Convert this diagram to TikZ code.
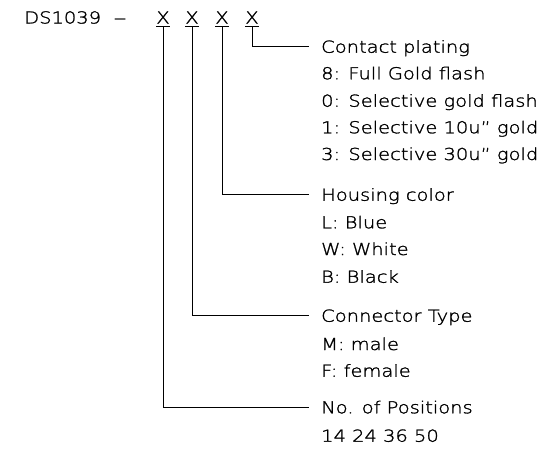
\documentclass[tikz,border=0pt]{standalone}
\usepackage{fontspec}
\setmainfont[FakeStretch=1.18, FakeBold=1.5]{DejaVu Sans ExtraLight}
\usetikzlibrary{positioning}

\begin{document}
\begin{tikzpicture}[x=1pt, y=-1pt,
    every node/.style={font=\fontsize{16.5}{20}\selectfont, inner sep=0pt},
    code/.style={anchor=base, text height=12pt, text depth=0pt, inner ysep=3pt},
    title/.style={anchor=base west, text height=12pt, text depth=0pt},
    option/.style={anchor=base west},
    leader/.style={line width=0.8pt}]
  \useasboundingbox (0,0) rectangle (557,450);

  % part number
  \node[anchor=base west] (part) at (24,23.5) {DS1039~~\scalebox{1.35}[1]{–}};
  \node[code] (xpos)     at (163,23.5) {X};
  \node[code] (xtype)    at (192,23.5) {X};
  \node[code] (xcolor)   at (222,23.5) {X};
  \node[code] (xplating) at (252,23.5) {X};
  \foreach \n in {xpos,xtype,xcolor,xplating}
    \draw[leader] (\n.south west) -- (\n.south east);

  % contact plating
  \node[title]  (plating) at (321,52.7) {Contact plating};
  \node[option] (pl8) at (321,79.3)  {8: Full Gold flash};
  \node[option] (pl0) at (321,106.7) {0: Selective gold flash};
  \node[option] (pl1) at (321,133.3) {1: Selective 10u” gold};
  \node[option] (pl3) at (321,160)   {3: Selective 30u” gold};

  % housing color
  \node[title]  (color) at (321,200.7) {Housing color};
  \node[option] (colL) at (321,228.3) {L: Blue};
  \node[option] (colW) at (321,255)   {W: White};
  \node[option] (colB) at (321,282.7) {B: Black};

  % connector type
  \node[title]  (type) at (321,321.7) {Connector Type};
  \node[option] (tyM) at (321,350)   {M: male};
  \node[option] (tyF) at (321,376.7) {F: female};

  % positions
  \node[title]  (positions) at (321,413.3) {No. of Positions};
  \node[option] (posn) at (321,441.7) {14 24 36 50};

  \draw[leader] (xplating.south) |- ([xshift=-12pt]plating.west);
  \draw[leader] (xcolor.south)   |- ([xshift=-12pt]color.west);
  \draw[leader] (xtype.south)    |- ([xshift=-12pt]type.west);
  \draw[leader] (xpos.south)     |- ([xshift=-12pt]positions.west);
\end{tikzpicture}
\end{document}
